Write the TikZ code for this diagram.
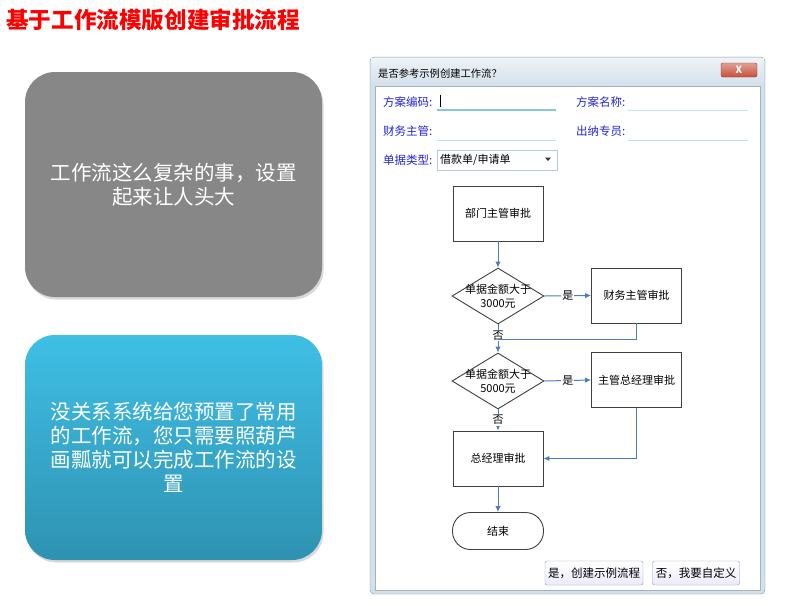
\documentclass[tikz,border=0pt]{standalone}
\usepackage{fontspec}
\setmainfont{Noto Sans CJK SC}
\usetikzlibrary{shapes.geometric,arrows.meta,shadows}
\definecolor{titlered}{HTML}{FF0000}
\definecolor{graybox}{HTML}{878787}
\definecolor{bluetop}{HTML}{3FBFE5}
\definecolor{bluebot}{HTML}{2E92B2}
\definecolor{arrowblue}{HTML}{4A7EBB}
\definecolor{framefill}{HTML}{D3E0EA}
\definecolor{frameline}{HTML}{7F93A6}
\definecolor{labelblue}{HTML}{2424D8}
\definecolor{uline}{HTML}{BFE2EC}
\definecolor{ulinef}{HTML}{86C6DC}
\definecolor{btnline}{HTML}{8A98A8}
\definecolor{closered}{HTML}{C8503A}
\begin{document}
\begin{tikzpicture}[x=1pt,y=-1pt,
  card/.style={rounded corners=30pt, minimum width=297pt, minimum height=225pt,
    text=white, align=center, font=\fontsize{20.5}{24}\selectfont,
    drop shadow={opacity=0.3, shadow xshift=1.5pt, shadow yshift=-2.5pt}},
  fbox/.style={draw=black!75, line width=0.9pt, fill=white, minimum width=90pt,
    minimum height=55pt, inner sep=0pt, font=\fontsize{11}{13}\selectfont},
  dia/.style={diamond, draw=black!75, line width=0.9pt, fill=white,
    minimum width=92pt, minimum height=56pt, inner sep=0pt},
  dtext/.style={font=\fontsize{11}{13.5}\selectfont, align=center, inner sep=0pt},
  flow/.style={draw=arrowblue, line width=1pt, -{Latex[length=6pt,width=5.5pt]}},
  flowline/.style={draw=arrowblue, line width=1pt},
  elabel/.style={fill=white, inner sep=1pt, font=\fontsize{11}{13}\selectfont},
  flabel/.style={text=labelblue, anchor=west, inner sep=0pt, font=\fontsize{11.5}{13}\selectfont},
  btn/.style={draw=btnline, rounded corners=2pt, top color=white, bottom color=black!4!blue!8,
    minimum height=24pt, inner xsep=2pt, font=\fontsize{11.5}{13}\selectfont}]
\useasboundingbox (0,0) rectangle (789,605);
\fill[white] (0,0) rectangle (789,605);

% title
\node[anchor=west, inner sep=0pt, text=titlered, font=\fontsize{22.6}{25}\bfseries] (title) at (6,20) {基于工作流模版创建审批流程};

% left cards
\node[card, fill=graybox] (c1) at (173.5,184.5) {工作流这么复杂的事，设置\\起来让人头大};
\node[card, top color=bluetop, bottom color=bluebot] (c2) at (173.5,447.5)
  {没关系系统给您预置了常用\\的工作流，您只需要照葫芦\\画瓢就可以完成工作流的设\\置};

% dialog frame
\draw[fill=framefill, draw=frameline, rounded corners=4pt] (370,57) rectangle (765,594);
\shade[top color=white!60!framefill, bottom color=framefill] (371,58) rectangle (764,86);
\draw[fill=white, draw=frameline!70] (375,86) rectangle (760,590);
\node[anchor=west, inner sep=0pt, font=\fontsize{10.3}{12}\selectfont] (dlgtitle) at (378,74) {是否参考示例创建工作流？};
\node[draw=closered!70!black, rounded corners=2pt, top color=closered!55!white, bottom color=closered,
  minimum width=36pt, minimum height=14pt, inner sep=0pt, text=white,
  font=\fontsize{10}{11}\bfseries] (close) at (739,70) {X};

% fields
\node[flabel] (l1) at (383,102) {方案编码:};
\node[flabel] (l2) at (576,102) {方案名称:};
\node[flabel] (l3) at (383,131) {财务主管:};
\node[flabel] (l4) at (576,131) {出纳专员:};
\node[flabel] (l5) at (383,160) {单据类型:};
\draw[ulinef, line width=1.2pt] (437,110) -- (556,110);
\draw[uline, line width=1pt] (628,110) -- (748,110);
\draw[uline, line width=1pt] (437,140) -- (556,140);
\draw[uline, line width=1pt] (628,140) -- (748,140);
\draw[black, line width=0.7pt] (440,95) -- (440,107);
\node[draw=uline!80!gray, fill=white, minimum width=120pt, minimum height=20pt, inner sep=0pt] (combo) at (497,160) {};
\node[anchor=west, inner sep=0pt, font=\fontsize{11}{13}\selectfont] (combotext) at (440,160) {借款单/申请单};
\fill[black!80] (545,157.5) -- (551,157.5) -- (548,161) -- cycle;

% flowchart
\node[fbox] (b1) at (498,213.5) {部门主管审批};
\node[dia, label={[dtext]center:{单据金额大于\\3000元}}] (d1) at (498,296) {};
\node[fbox] (b2) at (636.5,295.5) {财务主管审批};
\node[dia, label={[dtext]center:{单据金额大于\\5000元}}] (d2) at (498,381) {};
\node[fbox] (b3) at (636.5,380) {主管总经理审批};
\node[fbox] (b4) at (498,458.5) {总经理审批};
\node[draw=black!75, line width=0.9pt, fill=white, rounded corners=18pt,
  minimum width=91pt, minimum height=37pt, inner sep=0pt,
  font=\fontsize{11}{13}\selectfont] (end) at (498,531) {结束};
\coordinate (j1) at (498,339);

\draw[flow] (b1.south) -- (d1.north);
\draw[flow] (d1.east) -- node[elabel] (y1) {是} (b2.west);
\draw[flow] (d1.south) -- node[elabel, pos=0.4] (n1) {否} (d2.north);
\draw[flowline] (b2.south) |- (j1);
\draw[flow] (d2.east) -- node[elabel] (y2) {是} (b3.west);
\draw[flow] (d2.south) -- node[elabel] (n2) {否} (b4.north);
\draw[flow] (b3.south) |- (b4.east);
\draw[flow] (b4.south) -- (end.north);

% buttons
\node[btn, minimum width=98pt] (ok) at (594,573) {是，创建示例流程};
\node[btn, minimum width=87pt] (no) at (696,573) {否，我要自定义};
\end{tikzpicture}
\end{document}
